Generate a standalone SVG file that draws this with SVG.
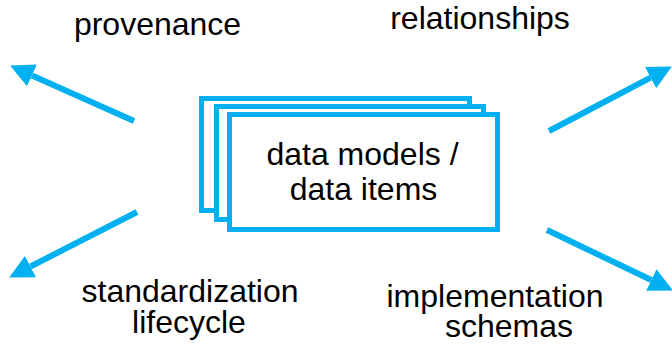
<svg xmlns="http://www.w3.org/2000/svg" width="672" height="344" viewBox="0 0 672 344">
<style>
.box{fill:#fff;stroke:#00B0F0;stroke-width:5}
.arr{stroke:#00B0F0;stroke-width:6;fill:none}
text{font-family:"Liberation Sans",Arial,sans-serif;font-size:32px;fill:#000;text-anchor:middle}
</style>
<defs>
<marker id="ah" markerUnits="strokeWidth" markerWidth="4" markerHeight="4" viewBox="0 0 4 4" refX="0" refY="2" orient="auto">
<path d="M0,0 L4,2 L0,4 z" fill="#00B0F0"/>
</marker>
</defs>
<g id="connectors">
<line class="arr" x1="134" y1="121" x2="32" y2="75.4" marker-end="url(#ah)"/>
<line class="arr" x1="549" y1="131" x2="650.6" y2="77.7" marker-end="url(#ah)"/>
<line class="arr" x1="137" y1="212" x2="30.5" y2="266.5" marker-end="url(#ah)"/>
<line class="arr" x1="547" y1="230" x2="651.3" y2="280" marker-end="url(#ah)"/>
</g>
<g id="data-models">
<rect class="box" x="201.5" y="98.5" width="268" height="112"/>
<rect class="box" x="216.5" y="106.5" width="267" height="113"/>
<rect class="box" x="229.5" y="114.5" width="268" height="115"/>
<text x="362.5" y="165">data models /</text>
<text x="363.5" y="200">data items</text>
</g>
<g id="provenance"><text x="157.5" y="35">provenance</text></g>
<g id="relationships"><text x="480" y="29">relationships</text></g>
<g id="standardization"><text x="190" y="302">standardization</text><text x="189" y="333">lifecycle</text></g>
<g id="implementation"><text x="495" y="307">implementation</text><text x="509" y="337">schemas</text></g>
</svg>
